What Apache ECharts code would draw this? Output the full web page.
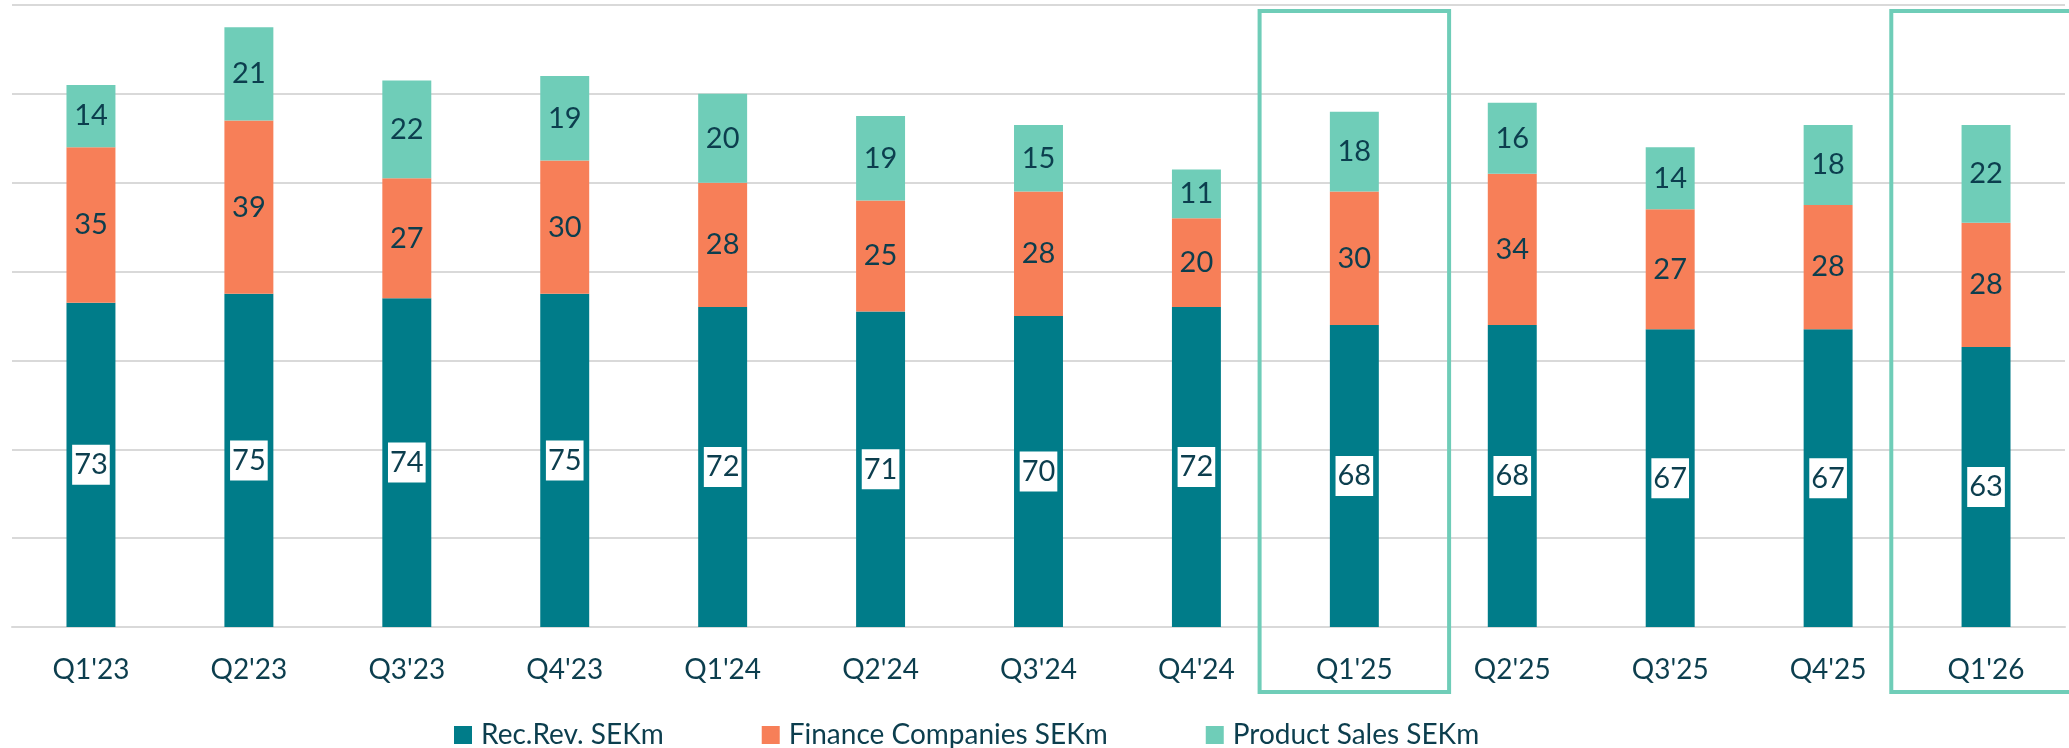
<!DOCTYPE html>
<html>
<head>
<meta charset="utf-8">
<script src="https://cdn.jsdelivr.net/npm/echarts@6/dist/echarts.min.js"></script>
<style>
html,body{margin:0;padding:0;background:#fff;}
#chart{width:2069px;height:748px;}
</style>
</head>
<body>
<div id="chart"></div>
<script>
const categories = ["Q1'23","Q2'23","Q3'23","Q4'23","Q1'24","Q2'24","Q3'24","Q4'24","Q1'25","Q2'25","Q3'25","Q4'25","Q1'26"];
const recRev = [73,75,74,75,72,71,70,72,68,68,67,67,63];
const financeCompanies = [35,39,27,30,28,25,28,20,30,34,27,28,28];
const productSales = [14,21,22,19,20,19,15,11,18,16,14,18,22];
const highlighted = ["Q1'25","Q1'26"];

const TEXT = '#0c3e4e';
const FONT = 'Lato';
const chart = echarts.init(document.getElementById('chart'), null, {renderer:'canvas'});

const segLabel = {show:true, position:'inside', color:TEXT, fontFamily:FONT, fontSize:29};

chart.setOption({
  animation:false,
  backgroundColor:'#ffffff',
  grid:{left:12, right:4, top:5, bottom:121, containLabel:false},
  legend:{
    top:716, left:449,
    itemWidth:18, itemHeight:18, itemGap:98,
    icon:'rect',
    textStyle:{color:TEXT, fontFamily:FONT, fontSize:28, padding:[0,0,0,4]},
    data:['Rec.Rev. SEKm','Finance Companies SEKm','Product Sales SEKm']
  },
  xAxis:{
    type:'category', data:categories,
    axisLine:{show:true, lineStyle:{color:'#d9d9d9', width:2}},
    axisTick:{show:false},
    axisLabel:{color:TEXT, fontFamily:FONT, fontSize:28, margin:29}
  },
  yAxis:{
    type:'value', min:0, max:140, interval:20,
    axisLabel:{show:false}, axisLine:{show:false}, axisTick:{show:false},
    splitLine:{lineStyle:{color:'#d9d9d9', width:2}}
  },
  series:[
    {name:'Rec.Rev. SEKm', type:'bar', stack:'t', data:recRev, barWidth:'31%',
     itemStyle:{color:'#007c89'},
     label:Object.assign({}, segLabel, {backgroundColor:'#ffffff', padding:[3,2,3,2], lineHeight:34})},
    {name:'Finance Companies SEKm', type:'bar', stack:'t', data:financeCompanies,
     itemStyle:{color:'#f77f58'}, label:segLabel},
    {name:'Product Sales SEKm', type:'bar', stack:'t', data:productSales,
     itemStyle:{color:'#6fcdb8'}, label:segLabel}
  ]
});

// highlight boxes around selected categories, positioned from the category axis
const boxes = highlighted.map(function(cat){
  const idx = categories.indexOf(cat);
  const cx = chart.convertToPixel({xAxisIndex:0}, idx);
  const band = chart.convertToPixel({xAxisIndex:0}, 1) - chart.convertToPixel({xAxisIndex:0}, 0);
  const half = band * 0.6;
  return {
    type:'rect', z:100,
    shape:{x:cx - half, y:11, width:half*2, height:681},
    style:{fill:'none', stroke:'#6fcdb8', lineWidth:4}
  };
});
chart.setOption({graphic:boxes});
</script>
</body>
</html>
